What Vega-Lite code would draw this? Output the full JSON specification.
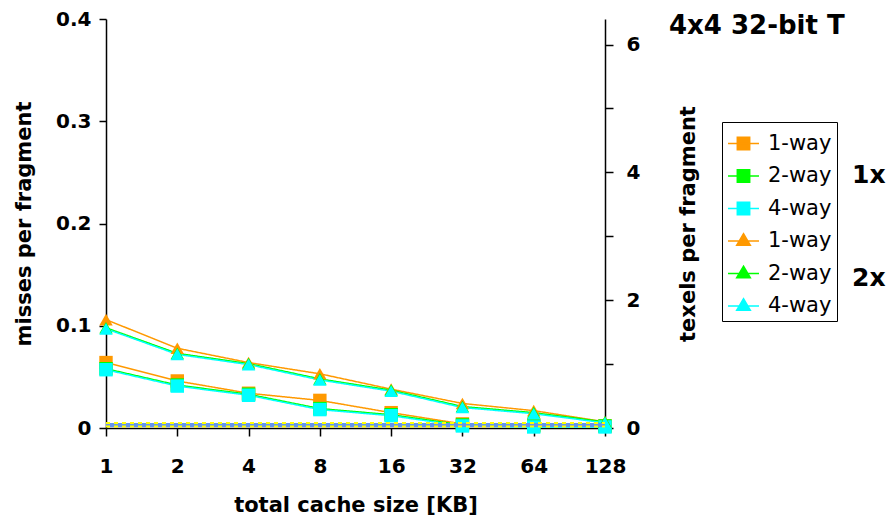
{
  "$schema": "https://vega.github.io/schema/vega-lite/v6.json",
  "width": 499,
  "height": 409,
  "autosize": "none",
  "padding": {"left": 106, "top": 19, "right": 288, "bottom": 101},
  "background": "white",
  "config": {
    "font": "DejaVu Sans",
    "view": {"stroke": null},
    "axis": {
      "domainColor": "black", "tickColor": "black", "labelColor": "black", "titleColor": "black",
      "labelFont": "DejaVu Sans", "labelFontWeight": "bold", "labelFontSize": 20,
      "titleFont": "DejaVu Sans", "titleFontWeight": "bold", "titleFontSize": 21,
      "grid": false, "domainWidth": 1.5, "tickWidth": 1.5, "tickSize": 7
    }
  },
  "title": {
    "text": "4x4 32-bit T", "anchor": "start", "frame": "group", "fontSize": 26, "fontWeight": "bold",
    "font": "DejaVu Sans", "color": "black", "dx": 563, "dy": 51, "baseline": "alphabetic", "offset": 0
  },
  "datasets": {
    "misses": [
      {"size": 1, "series": "1x 1-way", "cfg": "1x", "m": 0.064},
      {"size": 2, "series": "1x 1-way", "cfg": "1x", "m": 0.046},
      {"size": 4, "series": "1x 1-way", "cfg": "1x", "m": 0.034},
      {"size": 8, "series": "1x 1-way", "cfg": "1x", "m": 0.027},
      {"size": 16, "series": "1x 1-way", "cfg": "1x", "m": 0.015},
      {"size": 32, "series": "1x 1-way", "cfg": "1x", "m": 0.004},
      {"size": 64, "series": "1x 1-way", "cfg": "1x", "m": 0.003},
      {"size": 128, "series": "1x 1-way", "cfg": "1x", "m": 0.002},
      {"size": 1, "series": "1x 2-way", "cfg": "1x", "m": 0.058},
      {"size": 2, "series": "1x 2-way", "cfg": "1x", "m": 0.042},
      {"size": 4, "series": "1x 2-way", "cfg": "1x", "m": 0.033},
      {"size": 8, "series": "1x 2-way", "cfg": "1x", "m": 0.019},
      {"size": 16, "series": "1x 2-way", "cfg": "1x", "m": 0.013},
      {"size": 32, "series": "1x 2-way", "cfg": "1x", "m": 0.003},
      {"size": 64, "series": "1x 2-way", "cfg": "1x", "m": 0.002},
      {"size": 128, "series": "1x 2-way", "cfg": "1x", "m": 0.002},
      {"size": 1, "series": "1x 4-way", "cfg": "1x", "m": 0.057},
      {"size": 2, "series": "1x 4-way", "cfg": "1x", "m": 0.041},
      {"size": 4, "series": "1x 4-way", "cfg": "1x", "m": 0.032},
      {"size": 8, "series": "1x 4-way", "cfg": "1x", "m": 0.018},
      {"size": 16, "series": "1x 4-way", "cfg": "1x", "m": 0.012},
      {"size": 32, "series": "1x 4-way", "cfg": "1x", "m": 0.002},
      {"size": 64, "series": "1x 4-way", "cfg": "1x", "m": 0.001},
      {"size": 128, "series": "1x 4-way", "cfg": "1x", "m": 0.001},
      {"size": 1, "series": "2x 1-way", "cfg": "2x", "m": 0.106},
      {"size": 2, "series": "2x 1-way", "cfg": "2x", "m": 0.078},
      {"size": 4, "series": "2x 1-way", "cfg": "2x", "m": 0.064},
      {"size": 8, "series": "2x 1-way", "cfg": "2x", "m": 0.053},
      {"size": 16, "series": "2x 1-way", "cfg": "2x", "m": 0.038},
      {"size": 32, "series": "2x 1-way", "cfg": "2x", "m": 0.024},
      {"size": 64, "series": "2x 1-way", "cfg": "2x", "m": 0.017},
      {"size": 128, "series": "2x 1-way", "cfg": "2x", "m": 0.006},
      {"size": 1, "series": "2x 2-way", "cfg": "2x", "m": 0.098},
      {"size": 2, "series": "2x 2-way", "cfg": "2x", "m": 0.073},
      {"size": 4, "series": "2x 2-way", "cfg": "2x", "m": 0.063},
      {"size": 8, "series": "2x 2-way", "cfg": "2x", "m": 0.048},
      {"size": 16, "series": "2x 2-way", "cfg": "2x", "m": 0.037},
      {"size": 32, "series": "2x 2-way", "cfg": "2x", "m": 0.021},
      {"size": 64, "series": "2x 2-way", "cfg": "2x", "m": 0.015},
      {"size": 128, "series": "2x 2-way", "cfg": "2x", "m": 0.006},
      {"size": 1, "series": "2x 4-way", "cfg": "2x", "m": 0.097},
      {"size": 2, "series": "2x 4-way", "cfg": "2x", "m": 0.072},
      {"size": 4, "series": "2x 4-way", "cfg": "2x", "m": 0.062},
      {"size": 8, "series": "2x 4-way", "cfg": "2x", "m": 0.047},
      {"size": 16, "series": "2x 4-way", "cfg": "2x", "m": 0.036},
      {"size": 32, "series": "2x 4-way", "cfg": "2x", "m": 0.020},
      {"size": 64, "series": "2x 4-way", "cfg": "2x", "m": 0.014},
      {"size": 128, "series": "2x 4-way", "cfg": "2x", "m": 0.005}
    ],
    "tex": [
      {"size": 1, "k": "blue", "t": 0.045}, {"size": 2, "k": "blue", "t": 0.045},
      {"size": 4, "k": "blue", "t": 0.045}, {"size": 8, "k": "blue", "t": 0.045},
      {"size": 16, "k": "blue", "t": 0.045}, {"size": 32, "k": "blue", "t": 0.045},
      {"size": 64, "k": "blue", "t": 0.045}, {"size": 128, "k": "blue", "t": 0.045},
      {"size": 1, "k": "yhi", "t": 0.08}, {"size": 2, "k": "yhi", "t": 0.08},
      {"size": 4, "k": "yhi", "t": 0.08}, {"size": 8, "k": "yhi", "t": 0.08},
      {"size": 16, "k": "yhi", "t": 0.08}, {"size": 32, "k": "yhi", "t": 0.08},
      {"size": 64, "k": "yhi", "t": 0.08}, {"size": 128, "k": "yhi", "t": 0.08},
      {"size": 1, "k": "ylo", "t": 0.025}, {"size": 2, "k": "ylo", "t": 0.025},
      {"size": 4, "k": "ylo", "t": 0.025}, {"size": 8, "k": "ylo", "t": 0.025},
      {"size": 16, "k": "ylo", "t": 0.025}, {"size": 32, "k": "ylo", "t": 0.025},
      {"size": 64, "k": "ylo", "t": 0.025}, {"size": 128, "k": "ylo", "t": 0.025}
    ]
  },
  "encoding": {
    "x": {
      "field": "size", "type": "quantitative",
      "scale": {"type": "log", "base": 2, "domain": [1, 128], "nice": false},
      "axis": {"values": [1, 2, 4, 8, 16, 32, 64, 128], "format": "d", "title": "total cache size [KB]",
               "labelPadding": 20, "tickSize": 8, "titlePadding": 18, "labelFlush": false}
    }
  },
  "layer": [
    {
      "data": {"name": "misses"},
      "encoding": {
        "y": {
          "field": "m", "type": "quantitative",
          "scale": {"domain": [0, 0.4], "nice": false},
          "axis": {"orient": "left", "values": [0, 0.1, 0.2, 0.3, 0.4],
                   "labelExpr": "datum.value == 0 ? '0' : format(datum.value, '.1f')",
                   "title": "misses per fragment", "labelPadding": 8, "titlePadding": 21}
        },
        "color": {
          "field": "series", "type": "nominal",
          "scale": {"domain": ["1x 1-way", "1x 2-way", "1x 4-way", "2x 1-way", "2x 2-way", "2x 4-way"],
                    "range": ["#FF9900", "#00FF00", "#00FFFF", "#FF9900", "#00FF00", "#00FFFF"]},
          "legend": {
            "title": null, "orient": "none", "legendX": 616, "legendY": 103,
            "symbolSize": 961, "labelFontSize": 21, "labelFontWeight": "normal", "labelFont": "DejaVu Sans",
            "labelColor": "black", "labelOffset": 8, "rowPadding": 5.5, "padding": 5,
            "strokeColor": "black",
            "labelExpr": "split(datum.label, ' ')[1]",
            "encode": {
              "symbols": {
                "update": {
                  "shape": {"signal": "indexof(datum.value, '1x') == 0 ? 'M-1,0H1M-0.4,-0.4H0.4V0.4H-0.4Z' : 'M-1,0H1M0,-0.47L0.44,0.27L-0.44,0.27Z'"},
                  "fill": {"signal": "scale('color', datum.value)"},
                  "stroke": {"signal": "scale('color', datum.value)"},
                  "strokeWidth": {"value": 1.5},
                  "opacity": {"value": 1},
                  "fillOpacity": {"value": 1},
                  "strokeOpacity": {"value": 1}
                }
              }
            }
          }
        }
      },
      "layer": [
        {
          "mark": {"type": "line", "strokeWidth": 1.5},
          "encoding": {
            "strokeDash": {
              "field": "cfg", "type": "nominal",
              "scale": {"domain": ["1x", "2x"], "range": [[1, 0], [1, 0]]},
              "legend": {
                "title": null, "orient": "none", "legendX": 721, "legendY": 143,
                "symbolOpacity": 0, "symbolSize": 1, "labelOffset": 0,
                "labelFontSize": 25, "labelFontWeight": "bold", "labelFont": "DejaVu Sans",
                "labelColor": "black", "rowPadding": 77, "padding": 0
              }
            }
          }
        },
        {
          "mark": {"type": "point", "filled": true, "opacity": 1, "size": 180},
          "encoding": {
            "shape": {"field": "cfg", "type": "nominal",
                      "scale": {"domain": ["1x", "2x"], "range": ["square", "triangle-up"]},
                      "legend": null}
          }
        }
      ]
    },
    {
      "data": {"name": "tex"},
      "encoding": {
        "y": {
          "field": "t", "type": "quantitative",
          "scale": {"domain": [0, 6.4], "nice": false},
          "axis": {"orient": "right", "values": [0, 1, 2, 3, 4, 5, 6],
                   "labelExpr": "datum.value % 2 == 0 ? datum.label : ''",
                   "title": "texels per fragment", "titleAngle": 270, "titleBaseline": "top",
                   "tickSize": 8, "labelPadding": 13, "titlePadding": 38}
        }
      },
      "layer": [
        {
          "transform": [{"filter": "datum.k == 'blue'"}],
          "mark": {"type": "line", "color": "#6495ED", "strokeWidth": 4},
          "encoding": {}
        },
        {
          "transform": [{"filter": "datum.k != 'blue'"}],
          "mark": {"type": "line", "color": "#FFFF00", "strokeWidth": 2, "strokeDash": [4, 4]},
          "encoding": {"detail": {"field": "k", "type": "nominal"}}
        }
      ]
    }
  ],
  "resolve": {"scale": {"y": "independent"}}
}
